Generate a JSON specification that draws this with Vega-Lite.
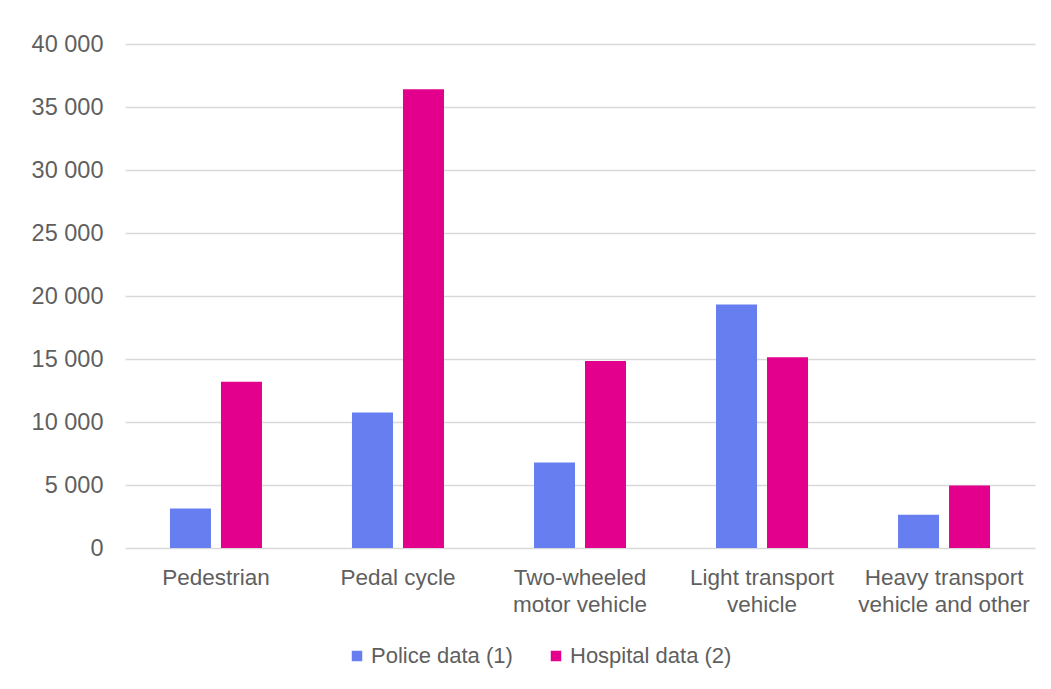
{
  "$schema": "https://vega.github.io/schema/vega-lite/v6.json",
  "width": 910,
  "height": 504,
  "autosize": "none",
  "padding": {"left": 125, "top": 44, "right": 16, "bottom": 141},
  "background": "white",
  "data": {
    "values": [
      {"category": "Pedestrian", "source": "Police data (1)", "count": 3130},
      {"category": "Pedestrian", "source": "Hospital data (2)", "count": 13200},
      {"category": "Pedal cycle", "source": "Police data (1)", "count": 10760},
      {"category": "Pedal cycle", "source": "Hospital data (2)", "count": 36400},
      {"category": "Two-wheeled motor vehicle", "source": "Police data (1)", "count": 6790},
      {"category": "Two-wheeled motor vehicle", "source": "Hospital data (2)", "count": 14850},
      {"category": "Light transport vehicle", "source": "Police data (1)", "count": 19330},
      {"category": "Light transport vehicle", "source": "Hospital data (2)", "count": 15140},
      {"category": "Heavy transport vehicle and other", "source": "Police data (1)", "count": 2630},
      {"category": "Heavy transport vehicle and other", "source": "Hospital data (2)", "count": 4960}
    ]
  },
  "mark": {"type": "bar"},
  "encoding": {
    "x": {
      "field": "category",
      "type": "nominal",
      "sort": null,
      "title": null,
      "scale": {"paddingInner": 0.4945, "paddingOuter": 0.247},
      "axis": {
        "labelAngle": 0,
        "domain": false,
        "ticks": false,
        "labelPadding": 18,
        "labelFont": "Liberation Sans",
        "labelFontSize": 22.5,
        "labelColor": "#5f5f5f",
        "labelLineHeight": 27,
        "labelBaseline": "top",
        "labelLimit": 300,
        "labelExpr": "datum.label == 'Two-wheeled motor vehicle' ? ['Two-wheeled', 'motor vehicle'] : datum.label == 'Light transport vehicle' ? ['Light transport', 'vehicle'] : datum.label == 'Heavy transport vehicle and other' ? ['Heavy transport', 'vehicle and other'] : datum.label"
      }
    },
    "xOffset": {
      "field": "source",
      "type": "nominal",
      "sort": ["Police data (1)", "Hospital data (2)"],
      "scale": {"paddingInner": 0.196, "paddingOuter": 0}
    },
    "y": {
      "field": "count",
      "type": "quantitative",
      "title": null,
      "scale": {"domain": [0, 40000], "nice": false},
      "axis": {
        "values": [0, 5000, 10000, 15000, 20000, 25000, 30000, 35000, 40000],
        "labelExpr": "replace(format(datum.value, ','), ',', ' ')",
        "domain": false,
        "ticks": false,
        "labelPadding": 22,
        "labelFont": "Liberation Sans",
        "labelFontSize": 23.5,
        "labelColor": "#5f5f5f",
        "gridColor": "#d9d9d9",
        "gridWidth": 1.4
      }
    },
    "color": {
      "field": "source",
      "type": "nominal",
      "sort": ["Police data (1)", "Hospital data (2)"],
      "scale": {"domain": ["Police data (1)", "Hospital data (2)"], "range": ["#667eef", "#e2008c"]},
      "legend": {
        "title": null,
        "orient": "none",
        "direction": "horizontal",
        "legendX": 221,
        "legendY": 601,
        "symbolType": "square",
        "symbolSize": 110,
        "symbolStrokeWidth": 0,
        "symbolOpacity": 1,
        "labelFont": "Liberation Sans",
        "labelFontSize": 22,
        "labelColor": "#5f5f5f",
        "labelOffset": 3,
        "columnPadding": 32,
        "labelLimit": 300
      }
    }
  },
  "config": {
    "view": {"stroke": null}
  }
}
